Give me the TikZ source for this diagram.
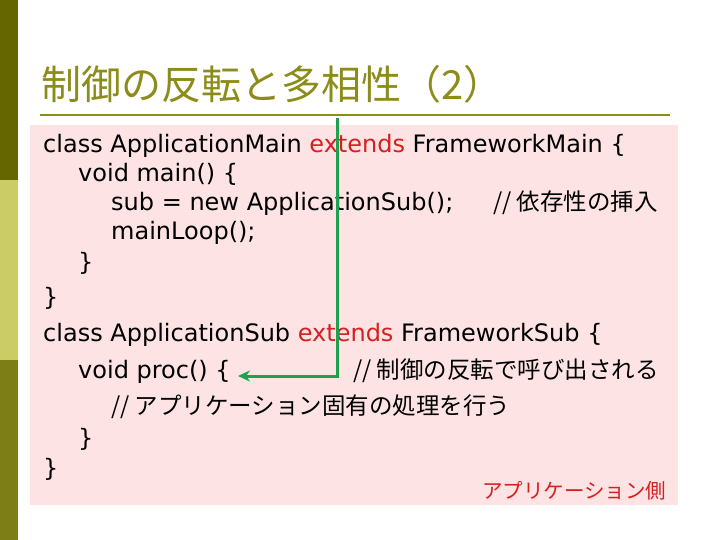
\documentclass[tikz,border=0pt]{standalone}
\usepackage{fontspec}
\setmainfont{DejaVu Sans}
\newfontfamily\jp{Noto Sans CJK JP}
\usetikzlibrary{arrows.meta}
\definecolor{olv}{HTML}{8C8C1A}
\definecolor{dolv}{HTML}{666600}
\definecolor{lolv}{HTML}{CCCC66}
\definecolor{pinkbg}{HTML}{FDE3E3}
\definecolor{grn}{HTML}{1FA050}
\definecolor{kred}{HTML}{D42020}
\begin{document}
\begin{tikzpicture}[x=1pt,y=-1pt,
  code/.style={anchor=base west,inner sep=0,font=\fontsize{24}{28}\selectfont},
  jpc/.style={code,font=\fontsize{23.5}{28}\selectfont\jp}]
\useasboundingbox (0,0) rectangle (720,540);
\fill[white] (0,0) rectangle (720,540);
\fill[dolv] (0,0) rectangle (18,180);
\fill[lolv] (0,180) rectangle (18,360);
\fill[olv!90!black] (0,360) rectangle (18,540);
\node[anchor=base west,inner sep=0,text=olv,font=\fontsize{40}{44}\selectfont\jp] (title) at (41,100) {制御の反転と多相性（2）};
\draw[olv,line width=2.5pt] (40,115) -- (670,115);
\fill[pinkbg] (30,125) rectangle (678,505);
\node[code] (l1) at (43,153) {class ApplicationMain \textcolor{kred}{extends} FrameworkMain \{};
\node[code] (l2) at (78,182) {void main() \{};
\node[code] (l3) at (111,211) {sub = new ApplicationSub();};
\node[jpc] (c3) at (493,211) {// 依存性の挿入};
\node[code] (l4) at (111,240) {mainLoop();};
\node[code] (l5) at (78,270) {\}};
\node[code] (l6) at (43,305) {\}};
\node[code] (l7) at (43,341) {class ApplicationSub \textcolor{kred}{extends} FrameworkSub \{};
\node[code] (l8) at (78,378) {void proc() \{};
\node[jpc] (c8) at (353,378) {// 制御の反転で呼び出される};
\node[jpc] (l9) at (111,414) {// アプリケーション固有の処理を行う};
\node[code] (l10) at (78,446) {\}};
\node[code] (l11) at (43,476) {\}};
\node[anchor=base west,inner sep=0,text=kred,font=\fontsize{20.5}{24}\selectfont\jp] (side) at (482,498) {アプリケーション側};
\coordinate (top) at (337,118);
\coordinate (turn) at (337,376);
\coordinate (tip) at (238,376);
\draw[grn,line width=3pt,-{Stealth[length=12pt,width=11pt]}] (top) -- (turn) -- (tip);
\end{tikzpicture}
\end{document}
